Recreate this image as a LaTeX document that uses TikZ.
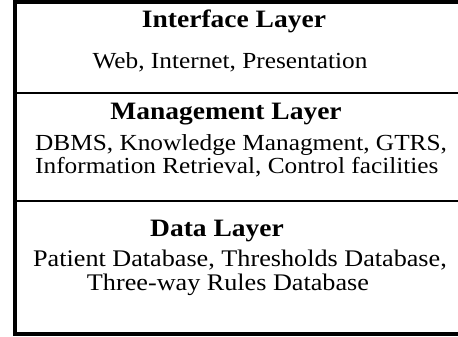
\documentclass[tikz,border=0pt]{standalone}
\usepackage{fontspec}
\setmainfont{Liberation Serif}[FakeStretch=1.1]
\begin{document}
\begin{tikzpicture}[x=1pt,y=-1pt,
  frame/.style={line width=3.5pt,line cap=rect},
  divider/.style={line width=2pt},
  title/.style={font=\fontsize{25}{28}\selectfont\bfseries,anchor=base,inner sep=0pt},
  body/.style={font=\fontsize{23}{20.5}\selectfont,inner sep=0pt}]
\useasboundingbox (0,0) rectangle (458,337);
% outer frame (open on the right)
\coordinate (tr) at (460,2);
\coordinate (tl) at (15,2);
\coordinate (bl) at (15,334);
\coordinate (br) at (460,334);
\draw[frame] (tr) -- (tl) -- (bl) -- (br);
% layer dividers
\coordinate (d1l) at (15,93);
\coordinate (d1r) at (460,93);
\coordinate (d2l) at (15,201);
\coordinate (d2r) at (460,201);
\draw[divider] (d1l) -- (d1r);
\draw[divider] (d2l) -- (d2r);
% interface layer
\node[title] (it) at (234,28) {Interface Layer};
\node[body,anchor=base] (ib) at (230,69) {Web, Internet, Presentation};
% management layer (base anchor sits on the last line)
\node[title] (mt) at (226,119) {Management Layer};
\node[body,anchor=base west,align=left] (mb) at (35,173) {DBMS, Knowledge Managment, GTRS,\\Information Retrieval, Control facilities};
% data layer
\node[title] (dt) at (217,236) {Data Layer};
\node[body,anchor=base,font=\fontsize{23.8}{21}\selectfont] (db1) at (240,266) {Patient Database, Thresholds Database,};
\node[body,anchor=base,font=\fontsize{23.8}{21}\selectfont] (db2) at (228,290) {Three-way Rules Database};
\end{tikzpicture}
\end{document}
